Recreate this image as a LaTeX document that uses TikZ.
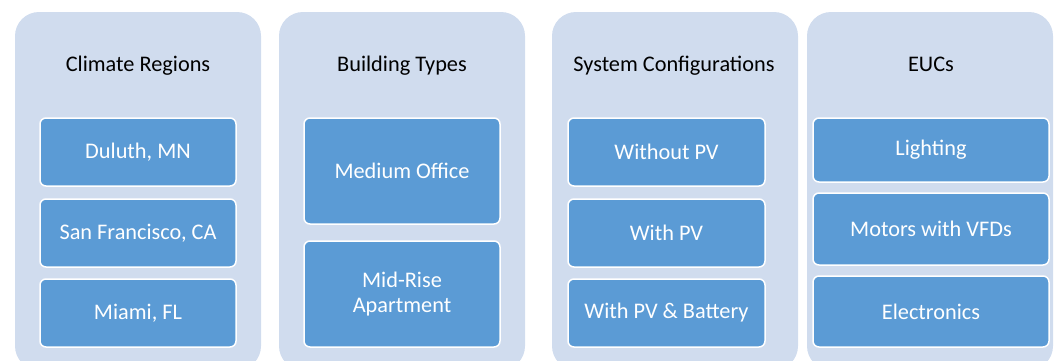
\documentclass[tikz,border=0pt]{standalone}
\usepackage{fontspec}
\setmainfont{Carlito}
\definecolor{panelblue}{RGB}{208,220,238}
\definecolor{boxblue}{RGB}{91,155,213}
\tikzset{
	panel/.style={fill=panelblue, rounded corners=24pt, minimum width=246pt, minimum height=358pt, inner sep=0pt},
	title/.style={anchor=base, text=black, font=\fontsize{22.3}{25}\selectfont},
	item/.style={fill=boxblue, draw=white, line width=1.5pt, rounded corners=6pt, inner sep=0pt, text=white, align=center, font=\fontsize{22.3}{25}\selectfont}
}
\begin{document}
\begin{tikzpicture}[x=1pt,y=-1pt]
	\useasboundingbox (0,0) rectangle (1057,360);
	\clip (0,0) rectangle (1057,360);
	\node[panel] (climate) at (138,191) {};
	\node[panel] (buildings) at (402,191) {};
	\node[panel] (systems) at (675,191) {};
	\node[panel] (eucs) at (930,191) {};
	\node[title] (climatetitle) at (138,71) {Climate Regions};
	\node[title] (buildingstitle) at (402,71) {Building Types};
	\node[title] (systemstitle) at (674,71) {System Configurations};
	\node[title] (eucstitle) at (931,71) {EUCs};
	\node[item, minimum width=196pt, minimum height=68pt] (duluth) at (138,152) {Duluth, MN};
	\node[item, minimum width=196pt, minimum height=68pt] (sanfran) at (138,233) {San Francisco, CA};
	\node[item, minimum width=196pt, minimum height=68pt] (miami) at (138,313) {Miami, FL};
	\node[item, minimum width=196pt, minimum height=106pt] (office) at (402,171) {Medium Office};
	\node[item, minimum width=196pt, minimum height=106pt] (apartment) at (402,294) {Mid-Rise\\Apartment};
	\node[item, minimum width=197pt, minimum height=68pt] (nopv) at (666.5,152) {Without PV};
	\node[item, minimum width=197pt, minimum height=68pt] (withpv) at (666.5,233) {With PV};
	\node[item, minimum width=197pt, minimum height=68pt] (pvbatt) at (666.5,313) {With PV \& Battery};
	\node[item, minimum width=236pt, minimum height=64pt] (lighting) at (931,150) {Lighting};
	\node[item, minimum width=236pt, minimum height=72pt] (motors) at (931,229) {Motors with VFDs};
	\node[item, minimum width=236pt, minimum height=71pt] (electronics) at (931,311.5) {Electronics};
\end{tikzpicture}
\end{document}
